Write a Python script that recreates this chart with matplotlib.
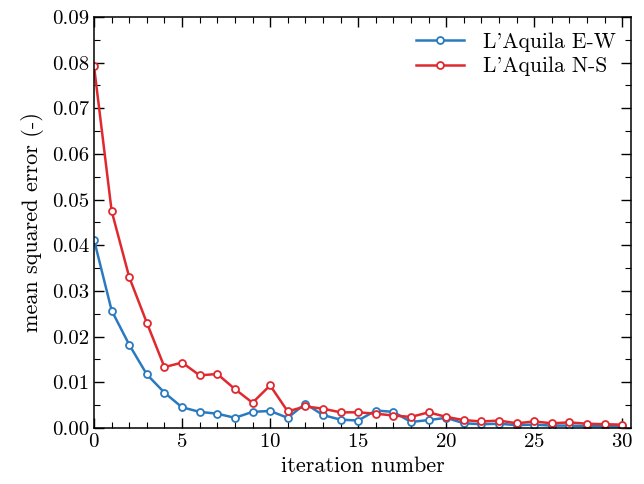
import matplotlib
matplotlib.use("Agg")
import matplotlib.pyplot as plt
from matplotlib.ticker import MultipleLocator

plt.rcParams['font.family'] = 'serif'
plt.rcParams['font.serif'] = ['cmr10']
plt.rcParams['mathtext.fontset'] = 'cm'
plt.rcParams['axes.formatter.use_mathtext'] = True

iterations = list(range(31))
mse_ew = [0.0412, 0.0257, 0.0182, 0.0117, 0.0077, 0.0045, 0.0035, 0.0031, 0.0022, 0.0035,
          0.0037, 0.0022, 0.0053, 0.0028, 0.0018, 0.0016, 0.0038, 0.0035, 0.0013, 0.0017,
          0.0022, 0.0010, 0.0008, 0.0009, 0.0006, 0.0007, 0.0005, 0.0005, 0.0004, 0.0004,
          0.0003]
mse_ns = [0.0792, 0.0475, 0.0330, 0.0230, 0.0133, 0.0143, 0.0115, 0.0118, 0.0085, 0.0055,
          0.0093, 0.0036, 0.0047, 0.0042, 0.0034, 0.0034, 0.0031, 0.0027, 0.0024, 0.0034,
          0.0024, 0.0017, 0.0014, 0.0016, 0.0010, 0.0014, 0.0010, 0.0012, 0.0009, 0.0008,
          0.0007]

fig = plt.figure(figsize=(6.44, 4.84), dpi=100)
ax = fig.add_axes([0.146, 0.116, 0.834, 0.849])

ax.plot(iterations, mse_ew, '-o', color='#2a7abf', lw=1.8, ms=5,
        mfc='white', mew=1.3, label="L'Aquila E-W")
ax.plot(iterations, mse_ns, '-o', color='#e0292e', lw=1.8, ms=5,
        mfc='white', mew=1.3, label="L'Aquila N-S")

ax.set_xlim(0, 30.5)
ax.set_ylim(0, 0.09)
ax.xaxis.set_major_locator(MultipleLocator(5))
ax.xaxis.set_minor_locator(MultipleLocator(1))
ax.yaxis.set_major_locator(MultipleLocator(0.01))
ax.yaxis.set_minor_locator(MultipleLocator(0.005))
ax.yaxis.set_major_formatter(plt.FormatStrFormatter('%.2f'))
ax.tick_params(which='both', direction='in', top=True, right=True, labelsize=15)
ax.tick_params(which='major', length=7, width=1)
ax.tick_params(which='minor', length=4, width=0.8)
for s in ax.spines.values():
    s.set_linewidth(1.1)

ax.set_xlabel('iteration number', fontsize=16, labelpad=4)
ax.set_ylabel('mean squared error (-)', fontsize=16, labelpad=6)
ax.legend(loc='upper right', frameon=False, fontsize=15.5, handlelength=2.2,
          labelspacing=0.25, borderaxespad=0.3, handletextpad=0.9)

fig.savefig('out.png', dpi=100)
